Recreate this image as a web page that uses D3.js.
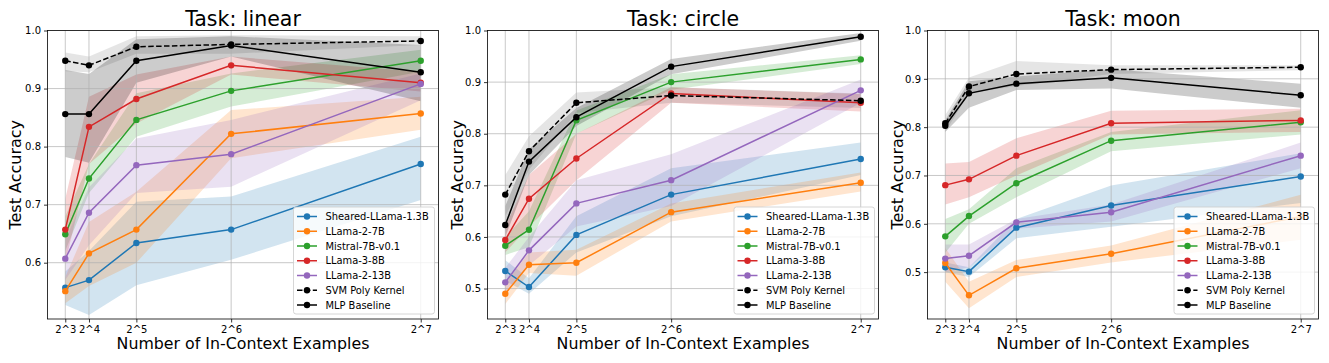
<!DOCTYPE html>
<html>
<head>
<meta charset="utf-8">
<script src="https://cdnjs.cloudflare.com/ajax/libs/d3/7.8.5/d3.min.js"></script>
<style>
  body { margin: 0; background: #fff; }
  svg { font-family: "DejaVu Sans", sans-serif; }
</style>
</head>
<body>
<svg id="chart" width="1329" height="363"></svg>
<script>
var xValues = [8, 16, 32, 64, 128];
var xTickLabels = ['2^3', '2^4', '2^5', '2^6', '2^7'];
var seriesNames = ['Sheared-LLama-1.3B', 'LLama-2-7B', 'Mistral-7B-v0.1', 'LLama-3-8B', 'LLama-2-13B', 'SVM Poly Kernel', 'MLP Baseline'];
var seriesColors = ['#1f77b4', '#ff7f0e', '#2ca02c', '#d62728', '#9467bd', '#000000', '#000000'];
var tasks = ['linear', 'circle', 'moon'];

// task: linear
var linearMean = [
  [0.557, 0.570, 0.634, 0.657, 0.770],
  [0.551, 0.616, 0.657, 0.822, 0.857],
  [0.649, 0.745, 0.846, 0.896, 0.948],
  [0.657, 0.834, 0.882, 0.940, 0.910],
  [0.607, 0.686, 0.768, 0.787, 0.908],
  [0.948, 0.940, 0.972, 0.976, 0.982],
  [0.856, 0.856, 0.948, 0.974, 0.928]
];
var linearLow = [
  [0.527, 0.510, 0.561, 0.605, 0.708],
  [0.530, 0.560, 0.600, 0.780, 0.829],
  [0.620, 0.720, 0.817, 0.869, 0.929],
  [0.600, 0.770, 0.840, 0.924, 0.895],
  [0.570, 0.630, 0.720, 0.731, 0.880],
  [0.930, 0.928, 0.960, 0.960, 0.975],
  [0.782, 0.772, 0.910, 0.955, 0.878]
];
var linearHigh = [
  [0.585, 0.620, 0.705, 0.714, 0.817],
  [0.575, 0.670, 0.722, 0.863, 0.886],
  [0.680, 0.770, 0.892, 0.926, 0.967],
  [0.710, 0.886, 0.924, 0.955, 0.929],
  [0.640, 0.730, 0.814, 0.846, 0.926],
  [0.962, 0.955, 0.990, 0.992, 0.990],
  [0.932, 0.925, 0.985, 0.990, 0.975]
];

// task: circle
var circleMean = [
  [0.534, 0.503, 0.604, 0.682, 0.751],
  [0.490, 0.546, 0.550, 0.648, 0.705],
  [0.583, 0.614, 0.826, 0.900, 0.944],
  [0.594, 0.674, 0.752, 0.878, 0.860],
  [0.512, 0.574, 0.665, 0.710, 0.884],
  [0.682, 0.766, 0.860, 0.874, 0.864],
  [0.623, 0.746, 0.832, 0.930, 0.988]
];
var circleLow = [
  [0.515, 0.490, 0.570, 0.640, 0.720],
  [0.470, 0.530, 0.525, 0.630, 0.688],
  [0.565, 0.580, 0.800, 0.885, 0.935],
  [0.570, 0.620, 0.710, 0.860, 0.843],
  [0.490, 0.545, 0.620, 0.660, 0.860],
  [0.640, 0.730, 0.840, 0.860, 0.850],
  [0.600, 0.720, 0.815, 0.915, 0.980]
];
var circleHigh = [
  [0.555, 0.520, 0.640, 0.733, 0.783],
  [0.510, 0.570, 0.575, 0.665, 0.725],
  [0.600, 0.650, 0.845, 0.915, 0.952],
  [0.620, 0.720, 0.800, 0.890, 0.877],
  [0.540, 0.600, 0.710, 0.760, 0.905],
  [0.720, 0.795, 0.880, 0.890, 0.878],
  [0.660, 0.770, 0.850, 0.945, 0.995]
];

// task: moon
var moonMean = [
  [0.510, 0.501, 0.592, 0.638, 0.698],
  [0.519, 0.452, 0.508, 0.538, 0.615],
  [0.574, 0.616, 0.684, 0.772, 0.810],
  [0.680, 0.692, 0.741, 0.808, 0.814],
  [0.528, 0.534, 0.603, 0.624, 0.741],
  [0.808, 0.884, 0.910, 0.919, 0.924],
  [0.803, 0.870, 0.890, 0.902, 0.866]
];
var moonLow = [
  [0.500, 0.490, 0.570, 0.594, 0.643],
  [0.480, 0.425, 0.490, 0.520, 0.567],
  [0.540, 0.600, 0.655, 0.750, 0.785],
  [0.640, 0.655, 0.700, 0.785, 0.790],
  [0.500, 0.510, 0.590, 0.605, 0.715],
  [0.790, 0.870, 0.885, 0.910, 0.918],
  [0.790, 0.840, 0.877, 0.880, 0.840]
];
var moonHigh = [
  [0.520, 0.510, 0.610, 0.679, 0.746],
  [0.550, 0.480, 0.525, 0.555, 0.660],
  [0.610, 0.630, 0.715, 0.790, 0.835],
  [0.725, 0.728, 0.777, 0.834, 0.838],
  [0.557, 0.557, 0.610, 0.640, 0.768],
  [0.825, 0.903, 0.937, 0.928, 0.928],
  [0.815, 0.895, 0.905, 0.920, 0.890]
];

var yDomains = [[0.503, 1.0], [0.441, 1.0], [0.403, 1.0]];
var yTicks = [[0.6, 0.7, 0.8, 0.9, 1.0], [0.5, 0.6, 0.7, 0.8, 0.9, 1.0], [0.5, 0.6, 0.7, 0.8, 0.9, 1.0]];

var panelData = [
  { mean: linearMean, low: linearLow, high: linearHigh },
  { mean: circleMean, low: circleLow, high: circleHigh },
  { mean: moonMean, low: moonLow, high: moonHigh }
];

var panelLeft = [47.5, 487.5, 927.5];
var panelWidth = 391;
var plotTop = 30.5, plotBottom = 319;

var svg = d3.select('#chart');

function drawPanel(p) {
  var data = panelData[p];
  var h = plotBottom - plotTop;
  var x = d3.scaleLinear().domain([2, 134]).range([0, panelWidth]);
  var y = d3.scaleLinear().domain(yDomains[p]).range([h, 0]);
  var g = svg.append('g').attr('transform', 'translate(' + panelLeft[p] + ',' + plotTop + ')');

  var clipId = 'clip' + p;
  g.append('clipPath').attr('id', clipId)
    .append('rect').attr('width', panelWidth).attr('height', h);
  var plot = g.append('g').attr('clip-path', 'url(#' + clipId + ')');

  var area = d3.area()
    .x(function(d, i){ return x(xValues[i]); })
    .y0(function(d){ return y(d[0]); })
    .y1(function(d){ return y(d[1]); });
  var line = d3.line()
    .x(function(d, i){ return x(xValues[i]); })
    .y(function(d){ return y(d); });

  // bands
  seriesNames.forEach(function(name, s){
    var pts = data.low[s].map(function(v, i){ return [v, data.high[s][i]]; });
    plot.append('path')
      .attr('d', area(pts))
      .attr('fill', seriesColors[s])
      .attr('fill-opacity', s === 5 ? 0.1 : 0.2);
  });

  // grid
  plot.selectAll('.gx').data(xValues).enter().append('line')
    .attr('x1', function(d){ return x(d); }).attr('x2', function(d){ return x(d); })
    .attr('y1', 0).attr('y2', h)
    .attr('stroke', '#b0b0b0').attr('stroke-opacity', 0.7).attr('stroke-width', 1);
  plot.selectAll('.gy').data(yTicks[p]).enter().append('line')
    .attr('x1', 0).attr('x2', panelWidth)
    .attr('y1', function(d){ return y(d); }).attr('y2', function(d){ return y(d); })
    .attr('stroke', '#b0b0b0').attr('stroke-opacity', 0.7).attr('stroke-width', 1);

  // lines and markers
  seriesNames.forEach(function(name, s){
    plot.append('path')
      .attr('d', line(data.mean[s]))
      .attr('fill', 'none')
      .attr('stroke', seriesColors[s])
      .attr('stroke-width', 1.5)
      .attr('stroke-dasharray', s === 5 ? '5.5,2.4' : null);
    plot.selectAll('.m' + s).data(data.mean[s]).enter().append('circle')
      .attr('cx', function(d, i){ return x(xValues[i]); })
      .attr('cy', function(d){ return y(d); })
      .attr('r', 3.2)
      .attr('fill', seriesColors[s]);
  });

  // axes
  var xAxis = d3.axisBottom(x).tickValues(xValues)
    .tickFormat(function(d, i){ return xTickLabels[i]; }).tickSize(3.5).tickPadding(3);
  var yAxis = d3.axisLeft(y).tickValues(yTicks[p])
    .tickFormat(d3.format('.1f')).tickSize(3.5).tickPadding(3);
  var gx = g.append('g').attr('transform', 'translate(0,' + h + ')').call(xAxis);
  var gy = g.append('g').call(yAxis);
  [gx, gy].forEach(function(a){
    a.select('.domain').remove();
    a.selectAll('text').attr('font-size', 10).attr('fill', '#000')
      .attr('font-family', '"DejaVu Sans", sans-serif');
    a.selectAll('line').attr('stroke', '#000').attr('stroke-width', 0.8);
  });

  g.append('rect').attr('width', panelWidth).attr('height', h)
    .attr('fill', 'none').attr('stroke', '#000').attr('stroke-width', 0.8);

  // titles
  g.append('text')
    .attr('x', panelWidth / 2).attr('y', -5)
    .attr('text-anchor', 'middle').attr('font-size', 20.5)
    .text('Task: ' + tasks[p]);
  g.append('text')
    .attr('x', panelWidth / 2).attr('y', h + 29.5)
    .attr('text-anchor', 'middle').attr('font-size', 15.8)
    .text('Number of In-Context Examples');
  g.append('text')
    .attr('transform', 'translate(' + (p === 0 ? -26.5 : -25) + ',' + (h / 2) + ') rotate(-90)')
    .attr('text-anchor', 'middle').attr('font-size', 16)
    .text('Test Accuracy');

  // legend
  var lw = p === 0 ? 141 : 140.5, lh = 107;
  var lx = panelWidth - lw - 4, ly = h - lh - 5;
  var leg = g.append('g').attr('transform', 'translate(' + lx + ',' + ly + ')');
  leg.append('rect').attr('width', lw).attr('height', lh).attr('rx', 2.5)
    .attr('fill', '#fff').attr('fill-opacity', 0.8)
    .attr('stroke', '#cccccc').attr('stroke-width', 0.8);
  seriesNames.forEach(function(name, s){
    var ry = 9.5 + s * 14.75;
    leg.append('line').attr('x1', 3.5).attr('x2', 23.5).attr('y1', ry).attr('y2', ry)
      .attr('stroke', seriesColors[s]).attr('stroke-width', 1.5)
      .attr('stroke-dasharray', s === 5 ? '5.5,2.4' : null);
    leg.append('circle').attr('cx', 13.5).attr('cy', ry).attr('r', 3.2).attr('fill', seriesColors[s]);
    leg.append('text').attr('x', 32).attr('y', ry + 3.7)
      .attr('font-size', 9.9).attr('fill', '#000').text(name);
  });
}

[0, 1, 2].forEach(drawPanel);
</script>
</body>
</html>
